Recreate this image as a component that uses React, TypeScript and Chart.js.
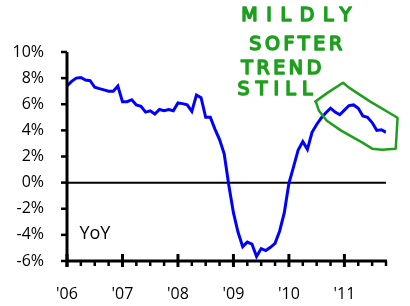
import React, { useEffect, useRef } from "react";
import { Chart, registerables } from "chart.js";

Chart.register(...registerables);

// Monthly YoY values, Jan 2006 .. Oct 2011 (x = month index)
const YEAR_LABELS = ["'06", "'07", "'08", "'09", "'10", "'11"];
const YOY_VALUES = [
  7.4, 7.75, 8.0, 8.05, 7.85, 7.8, 7.3, 7.2, 7.1, 7.0, 7.0, 7.4,
  6.2, 6.2, 6.35, 5.95, 5.85, 5.4, 5.5, 5.25, 5.6, 5.5, 5.6, 5.5,
  6.1, 6.05, 5.95, 5.45, 6.7, 6.5, 5.0, 5.0, 4.1, 3.3, 2.2, -0.2,
  -2.3, -3.8, -4.9, -4.55, -4.7, -5.65, -5.05, -5.2, -4.95, -4.65, -3.7, -2.3,
  -0.05, 1.2, 2.5, 3.15, 2.55, 3.85, 4.45, 4.95, 5.35, 5.7, 5.4, 5.2,
  5.55, 5.9, 5.95, 5.7, 5.1, 5.0, 4.6, 4.0, 4.05, 3.85,
];
const Y_MIN = -6;
const Y_MAX = 10;
const Y_STEP = 2;
const X_MAX = YOY_VALUES.length - 1;
const MINOR_STEP = 3; // quarterly tick marks
const YEAR_STEP = 12;

const SERIES_LABEL = "YoY";
const SERIES_LABEL_AT = { x: 2.7, y: -3.9 };

// hand-written note (anchors in data units)
const NOTE_LINES = ["MILDLY", "SOFTER", "TREND", "STILL"];
const NOTE_X = [37.7, 39.4, 37.7, 36.9];
const NOTE_Y = [12.78, 10.56, 8.72, 7.12];
const NOTE_WIDTHS = [110, 93, 80, 75];

// hand-drawn lasso around the last stretch (data units)
const LASSO_X = [53.7, 56.4, 59.7, 61.0, 65.6, 71.5, 71.3, 71.1, 68.1, 66.0, 63.9, 59.3, 56.2, 54.5, 53.9];
const LASSO_Y = [6.2, 6.89, 7.65, 7.27, 6.2, 4.97, 3.75, 2.6, 2.52, 2.6, 3.06, 3.98, 4.74, 5.5, 6.12];

const FONT = "'Open Sans', 'Liberation Sans', sans-serif";
const GREEN = "#1ea01e";

const decorPlugin = {
  id: "decor",
  beforeDatasetsDraw(chart: any) {
    const { ctx, chartArea, scales } = chart;
    const y0 = scales.y.getPixelForValue(0);
    ctx.save();
    ctx.strokeStyle = "#000";
    ctx.lineWidth = 2;
    ctx.beginPath();
    ctx.moveTo(chartArea.left, y0);
    ctx.lineTo(chartArea.right, y0);
    ctx.stroke();
    ctx.restore();
  },
  afterDraw(chart: any) {
    const { ctx, chartArea, scales } = chart;
    const xs = scales.x;
    const ys = scales.y;
    const L = chartArea.left;
    const B = chartArea.bottom;
    ctx.save();
    ctx.strokeStyle = "#000";
    ctx.lineCap = "butt";
    // y axis
    ctx.lineWidth = 3;
    ctx.beginPath();
    ctx.moveTo(L, ys.getPixelForValue(Y_MAX));
    ctx.lineTo(L, B + 6);
    ctx.stroke();
    // x axis
    ctx.beginPath();
    ctx.moveTo(L, B);
    ctx.lineTo(xs.getPixelForValue(X_MAX) + 1, B);
    ctx.stroke();
    // y ticks
    ctx.lineWidth = 2.5;
    for (let v = Y_MIN; v <= Y_MAX; v += Y_STEP) {
      const py = ys.getPixelForValue(v);
      ctx.beginPath();
      ctx.moveTo(L - 6, py);
      ctx.lineTo(L, py);
      ctx.stroke();
    }
    // x ticks
    for (let m = 0; m <= X_MAX; m += MINOR_STEP) {
      const px = xs.getPixelForValue(m);
      ctx.beginPath();
      if (m % YEAR_STEP === 0) {
        ctx.lineWidth = 3;
        ctx.moveTo(px, B - 7);
        ctx.lineTo(px, B + 6);
      } else {
        ctx.lineWidth = 2.5;
        ctx.moveTo(px, B);
        ctx.lineTo(px, B + 5);
      }
      ctx.stroke();
    }
    // series label
    ctx.fillStyle = "#000";
    ctx.font = `18px ${FONT}`;
    ctx.textAlign = "left";
    ctx.textBaseline = "middle";
    ctx.fillText(SERIES_LABEL, xs.getPixelForValue(SERIES_LABEL_AT.x), ys.getPixelForValue(SERIES_LABEL_AT.y));

    // hand-written note
    ctx.fillStyle = GREEN;
    ctx.strokeStyle = GREEN;
    ctx.lineWidth = 1.6;
    ctx.lineJoin = "round";
    ctx.font = `19px 'DejaVu Sans', sans-serif`;
    NOTE_LINES.forEach((t, i) => {
      (ctx as any).letterSpacing = "0px";
      const w = ctx.measureText(t).width;
      const sp = (NOTE_WIDTHS[i] - w) / (t.length - 1);
      (ctx as any).letterSpacing = `${sp}px`;
      const px = xs.getPixelForValue(NOTE_X[i]);
      const py = ys.getPixelForValue(NOTE_Y[i]);
      ctx.fillText(t, px, py);
      ctx.strokeText(t, px, py);
    });
    (ctx as any).letterSpacing = "0px";

    // lasso
    ctx.lineWidth = 2.5;
    ctx.lineCap = "round";
    ctx.beginPath();
    LASSO_X.forEach((mx, i) => {
      const px = xs.getPixelForValue(mx);
      const py = ys.getPixelForValue(LASSO_Y[i]);
      if (i === 0) ctx.moveTo(px, py);
      else ctx.lineTo(px, py);
    });
    ctx.stroke();
    ctx.restore();
  },
};

export default function App() {
  const ref = useRef<HTMLCanvasElement | null>(null);
  useEffect(() => {
    if (!ref.current) return;
    const chart = new Chart(ref.current, {
      type: "line",
      data: {
        datasets: [
          {
            data: YOY_VALUES.map((v, i) => ({ x: i, y: v })),
            borderColor: "#0000ff",
            borderWidth: 3,
            pointRadius: 0,
            tension: 0,
            fill: false,
          },
        ],
      },
      options: {
        animation: false,
        responsive: false,
        devicePixelRatio: 1,
        layout: { padding: { top: 52, right: 13, left: 0, bottom: 0 } },
        plugins: { legend: { display: false }, tooltip: { enabled: false } },
        scales: {
          x: {
            type: "linear",
            min: 0,
            max: X_MAX,
            border: { display: false },
            grid: { display: false, drawTicks: false, tickLength: 0 },
            afterFit: (s: any) => {
              s.height = 45;
            },
            ticks: {
              stepSize: YEAR_STEP,
              autoSkip: false,
              maxRotation: 0,
              padding: 24,
              color: "#000",
              font: { family: FONT, size: 16 },
              callback: (v: any) => (Number(v) % YEAR_STEP === 0 ? YEAR_LABELS[Number(v) / YEAR_STEP] : ""),
            },
          },
          y: {
            min: Y_MIN,
            max: Y_MAX,
            border: { display: false },
            grid: { display: false, drawTicks: false, tickLength: 0 },
            afterFit: (s: any) => {
              s.width = 67;
            },
            ticks: {
              stepSize: Y_STEP,
              padding: 23,
              color: "#000",
              font: { family: FONT, size: 16 },
              callback: (v: any) => `${v}%`,
            },
          },
        },
      },
      plugins: [decorPlugin],
    });
    return () => chart.destroy();
  }, []);
  return (
    <div style={{ position: "absolute", left: 0, top: 0, width: 410, height: 306, background: "#fff" }}>
      <canvas ref={ref} width={410} height={306} />
    </div>
  );
}
